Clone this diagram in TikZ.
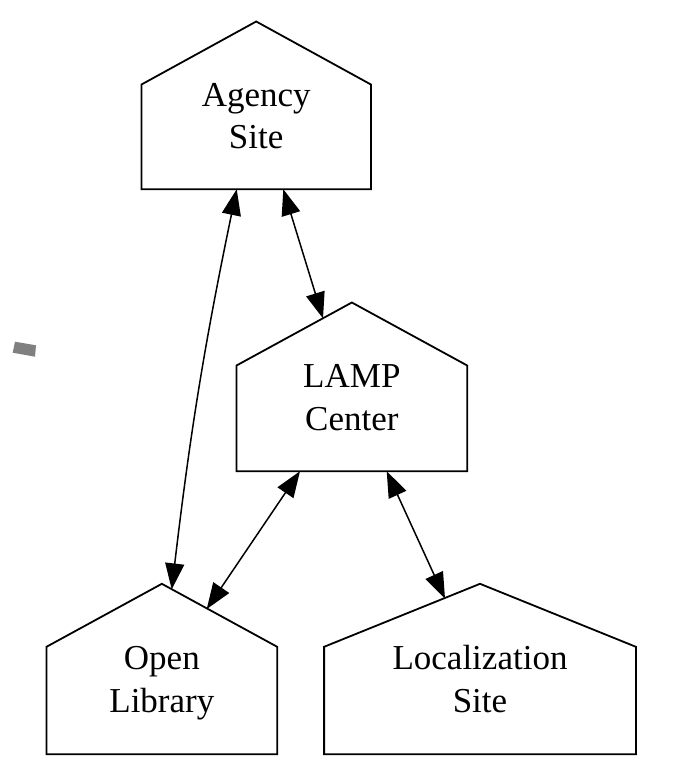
\documentclass[tikz,border=0pt]{standalone}
\usepackage{fontspec}
\setmainfont{Liberation Serif}
\usetikzlibrary{arrows.meta}
\newcommand{\housefont}{\fontsize{35}{42.5}\selectfont}
\newcommand{\twolines}[2]{\rule{0pt}{52pt}#1\\#2\rule[-8pt]{0pt}{8pt}}
\newcommand{\roof}[1]{\draw[houseline] (#1.south west) -- (#1.south east) -- ([yshift=-63pt]#1.north east) -- (#1.north) -- ([yshift=-63pt]#1.north west) -- cycle;}
\tikzset{
  house/.style={align=center, inner sep=0pt, font=\housefont},
  houseline/.style={line width=1.8pt, line join=miter},
  link/.style={line width=1.5pt, >={Triangle[length=26pt,width=19pt]}, <->}
}

\begin{document}
\begin{tikzpicture}[x=1pt, y=-1pt]
        \useasboundingbox (0,0) rectangle (686,762);

        % sites
        \node[house, minimum width=229pt, minimum height=167.3pt] (agency) at (256.2,105.35) {\twolines{Agency}{Site}};
        \node[house, minimum width=230.3pt, minimum height=168.3pt] (lamp) at (351.85,386.85) {\twolines{LAMP}{Center}};
        \node[house, minimum width=230.3pt, minimum height=170pt] (open) at (161.85,669) {\twolines{Open}{Library}};
        \node[house, minimum width=311.4pt, minimum height=170pt] (local) at (480,669) {\twolines{Localization}{Site}};

        \roof{agency}
        \roof{lamp}
        \roof{open}
        \roof{local}

        % links
        \draw[link] ([xshift=-19.5pt]agency.south) to[bend right=2.5] ([xshift=9.85pt,yshift=-5.6pt]open.north);
        \draw[link] ([xshift=27.1pt]agency.south) -- ([xshift=-28.85pt,yshift=-15.9pt]lamp.north);
        \draw[link] ([xshift=-51.85pt]lamp.south) -- ([xshift=44.85pt,yshift=-25.3pt]open.north);
        \draw[link] ([xshift=34.85pt]lamp.south) -- ([xshift=-35pt,yshift=-14.8pt]local.north);

        % mark on the left
        \fill[gray] (15,341.7) -- (36,345.3) -- (35,356.7) -- (12.7,352.7) -- cycle;
\end{tikzpicture}
\end{document}
